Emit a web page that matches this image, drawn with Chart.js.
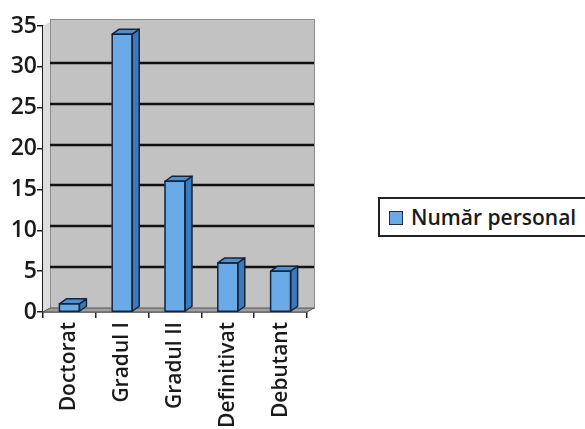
<!DOCTYPE html>
<html>
<head>
<meta charset="utf-8">
<script src="https://cdn.jsdelivr.net/npm/chart.js@4/dist/chart.umd.min.js"></script>
<style>
  html, body { margin: 0; padding: 0; background: #fff; }
  #wrap { position: relative; width: 585px; height: 429px; overflow: hidden; }
  #c { position: absolute; left: 0; top: 0; }
  #legend {
    position: absolute; left: 378px; top: 197px; width: 230px; height: 40px;
    border: 2px solid #222; box-sizing: border-box; background: #fff;
    font-family: "Open Sans", sans-serif; font-weight: 600; font-size: 21px; color: #1a1a1a;
    white-space: nowrap;
  }
  #legend .box {
    position: absolute; left: 9px; top: 12px; width: 12px; height: 12px;
    background: #6aaae6; border: 1.5px solid #1d2d44;
  }
  #legend .txt { position: absolute; left: 31px; top: 3px; line-height: 30px; }
</style>
</head>
<body>
<div id="wrap">
  <canvas id="c" width="585" height="429"></canvas>
  <div id="legend"><span class="box"></span><span class="txt" id="legtxt"></span></div>
</div>
<script>
const categories = ["Doctorat", "Gradul I", "Gradul II", "Definitivat", "Debutant"];
const seriesName = "Număr personal";
const values = [1, 34, 16, 6, 5];
const yTicks = [0, 5, 10, 15, 20, 25, 30, 35];

document.getElementById('legtxt').textContent = seriesName;

const DX = 7, DY = 5, WDY = 4;
const FRONT = '#6aaae6', SIDE = '#3b7bbd', TOP = '#4a90d2', EDGE = '#16243a';

const wallPlugin = {
  id: 'wall3d',
  beforeDatasetsDraw(chart) {
    const ctx = chart.ctx, a = chart.chartArea, y = chart.scales.y;
    const L = a.left, R = a.right, T = y.getPixelForValue(35), B = y.getPixelForValue(0);
    ctx.save();
    // side wall
    ctx.fillStyle = '#dedede';
    ctx.beginPath();
    ctx.moveTo(L, B); ctx.lineTo(L + DX, B - WDY); ctx.lineTo(L + DX, T - WDY); ctx.lineTo(L, T);
    ctx.closePath(); ctx.fill();
    // back wall
    ctx.fillStyle = '#c2c2c2';
    ctx.fillRect(L + DX, T - WDY - 3, R - L, B - T + 3);
    ctx.strokeStyle = '#8c8c8c'; ctx.lineWidth = 1;
    ctx.strokeRect(L + DX + 0.5, T - WDY - 3 + 0.5, R - L, B - T + 3);
    // floor
    ctx.fillStyle = '#9e9e9e';
    ctx.beginPath();
    ctx.moveTo(L, B); ctx.lineTo(R, B); ctx.lineTo(R + DX, B - WDY); ctx.lineTo(L + DX, B - WDY);
    ctx.closePath(); ctx.fill();
    ctx.strokeStyle = '#555'; ctx.stroke();
    // gridlines on the back wall
    ctx.strokeStyle = '#111'; ctx.lineWidth = 2.5;
    yTicks.forEach(v => {
      if (v === 0 || v === 35) return;
      const py = Math.round(y.getPixelForValue(v) - WDY);
      ctx.beginPath(); ctx.moveTo(L + DX, py); ctx.lineTo(R + DX, py); ctx.stroke();
    });
    ctx.restore();
  },
  afterDatasetsDraw(chart) {
    const ctx = chart.ctx;
    const meta = chart.getDatasetMeta(0);
    ctx.save();
    ctx.lineWidth = 1.5; ctx.strokeStyle = EDGE; ctx.lineJoin = 'round';
    meta.data.forEach(bar => {
      const p = bar.getProps(['x', 'y', 'base', 'width'], true);
      const l = p.x - p.width / 2, r = p.x + p.width / 2;
      // side face
      ctx.fillStyle = SIDE;
      ctx.beginPath();
      ctx.moveTo(r, p.y); ctx.lineTo(r + DX, p.y - DY); ctx.lineTo(r + DX, p.base - DY); ctx.lineTo(r, p.base);
      ctx.closePath(); ctx.fill(); ctx.stroke();
      // top face
      ctx.fillStyle = TOP;
      ctx.beginPath();
      ctx.moveTo(l, p.y); ctx.lineTo(l + DX, p.y - DY); ctx.lineTo(r + DX, p.y - DY); ctx.lineTo(r, p.y);
      ctx.closePath(); ctx.fill(); ctx.stroke();
      // front face outline
      ctx.strokeRect(l, p.y, p.width, p.base - p.y);
    });
    ctx.restore();
  }
};

new Chart(document.getElementById('c'), {
  type: 'bar',
  data: {
    labels: categories,
    datasets: [{
      label: seriesName,
      data: values,
      backgroundColor: FRONT,
      borderColor: EDGE,
      borderWidth: 0,
      barThickness: 20
    }]
  },
  options: {
    responsive: false,
    animation: false,
    events: [],
    layout: { padding: { top: 26, right: 278, left: 0, bottom: 0 } },
    plugins: { legend: { display: false }, tooltip: { enabled: false } },
    scales: {
      y: {
        min: 0, max: 35,
        afterFit: s => { s.width = 43; },
        afterBuildTicks: s => { s.ticks = yTicks.map(v => ({ value: v })); },
        grid: { display: true, drawOnChartArea: false, tickLength: 6, color: '#222', lineWidth: 1.5 },
        border: { display: true, color: '#222', width: 1.5 },
        ticks: { color: '#1a1a1a', padding: 0, font: { family: 'Open Sans', size: 23, weight: '600' } }
      },
      x: {
        afterFit: s => { s.height = 117; },
        grid: { display: true, drawOnChartArea: false, offset: true, tickLength: 6, color: '#222', lineWidth: 1.5 },
        border: { display: true, color: '#222', width: 1.5 },
        ticks: { color: '#1a1a1a', minRotation: 90, maxRotation: 90, padding: 4, autoSkip: false,
                 font: { family: 'Open Sans', size: 21, weight: '600' } }
      }
    }
  },
  plugins: [wallPlugin]
});
</script>
</body>
</html>
